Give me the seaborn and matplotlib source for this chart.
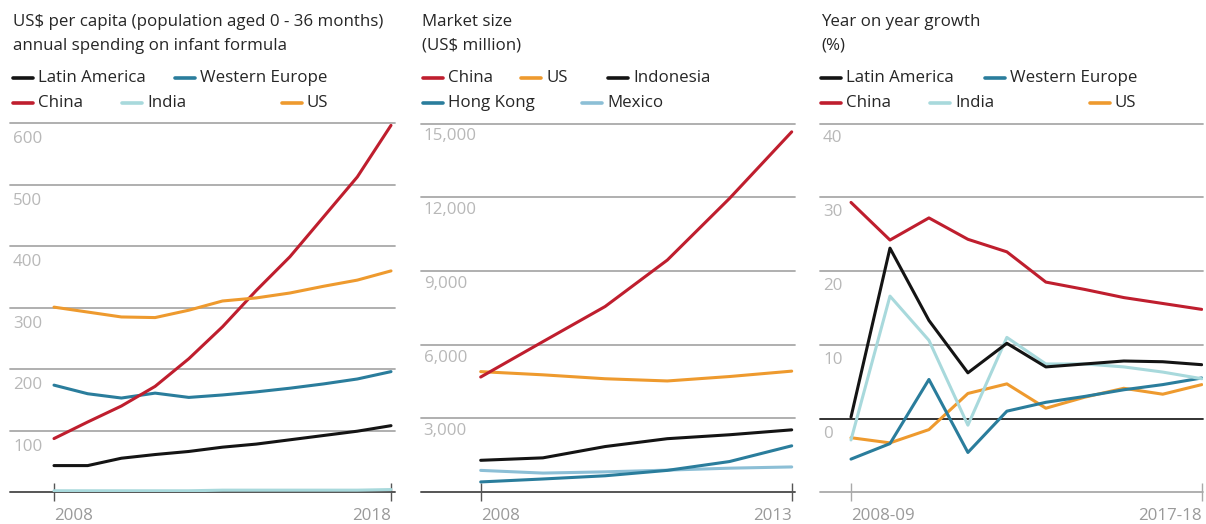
import matplotlib
matplotlib.use("Agg")
import matplotlib.pyplot as plt
import numpy as np
import pandas as pd
import seaborn as sns
from matplotlib.lines import Line2D
from matplotlib.transforms import offset_copy

sns.set_style("white")
plt.rcParams["font.family"] = ["Open Sans", "DejaVu Sans"]

# ---- data -----------------------------------------------------------------
years_spend = list(range(2008, 2019))
spend_latam = [43, 43, 55, 61, 66, 73, 78, 85, 92, 99, 108]
spend_weu = [174, 160, 153, 161, 154, 158, 163, 169, 176, 184, 196]
spend_china = [87, 114, 140, 172, 217, 269, 328, 383, 448, 513, 597]
spend_india = [2, 2, 2, 2, 2, 3, 3, 3, 3, 3, 4]
spend_us = [301, 293, 285, 284, 296, 311, 316, 324, 335, 345, 360]

years_market = list(range(2008, 2014))
market_china = [4680, 6120, 7550, 9440, 11950, 14660]
market_us = [4900, 4770, 4610, 4520, 4700, 4920]
market_indonesia = [1290, 1390, 1850, 2170, 2330, 2530]
market_hongkong = [410, 530, 660, 880, 1240, 1880]
market_mexico = [880, 770, 820, 890, 970, 1020]

periods = ["2008-09", "2009-10", "2010-11", "2011-12", "2012-13",
           "2013-14", "2014-15", "2015-16", "2016-17", "2017-18"]
growth_latam = [0.2, 23.1, 13.3, 6.2, 10.2, 7.0, 7.4, 7.8, 7.7, 7.3]
growth_weu = [-5.5, -3.4, 5.3, -4.6, 1.0, 2.2, 3.0, 3.9, 4.6, 5.5]
growth_china = [29.3, 24.2, 27.2, 24.3, 22.6, 18.5, 17.5, 16.4, 15.6, 14.8]
growth_india = [-2.9, 16.6, 10.6, -0.9, 11.0, 7.4, 7.4, 7.0, 6.3, 5.4]
growth_us = [-2.6, -3.3, -1.5, 3.4, 4.7, 1.4, 2.9, 4.1, 3.3, 4.6]

spend_ticks = [100, 200, 300, 400, 500, 600]
market_ticks = [3000, 6000, 9000, 12000, 15000]
growth_ticks = [0, 10, 20, 30, 40]

# ---- styling --------------------------------------------------------------
C_BLACK = "#141414"
C_TEAL = "#2a7d9c"
C_RED = "#bf1e2e"
C_PALE = "#a8d9dc"
C_ORANGE = "#ee9a2e"
C_MEXICO = "#8cbfd6"
GRID = "#a9a9a9"
LABEL = "#b8b8b8"
XLABEL = "#9a9a9a"
TEXT = "#262626"
FS = 12.2
LW = 2.2

W, H = 1206, 524
fig = plt.figure(figsize=(W / 100, H / 100), dpi=100)


def fx(x):
    return x / W


def fy(y):
    return 1 - y / H


def make_axes(x0, x1, ytop=123.5, ybot=492):
    return fig.add_axes([fx(x0), fy(ybot), (x1 - x0) / W, (ybot - ytop) / H])


def header(x, lines, legend_rows):
    for i, line in enumerate(lines):
        fig.text(fx(x), fy(22 + 24 * i), line, ha="left", va="center",
                 fontsize=FS, color=TEXT)
    for row_y, row in zip((78, 103), legend_rows):
        for hx, label, color in row:
            fig.add_artist(Line2D([fx(hx), fx(hx + 20)], [fy(row_y)] * 2,
                                  color=color, lw=2.6,
                                  transform=fig.transFigure))
            fig.text(fx(hx + 25), fy(row_y), label, ha="left", va="center",
                     fontsize=FS, color=TEXT)


def draw_panel(ax, x, series, xlim, ylim, yticks, ytick_fmt, label_drop,
               xt_labels, base_color, base_width, extra_zero=False):
    frames = []
    for name, values, color in series:
        frames.append(pd.DataFrame({"x": x, "y": values, "s": name}))
    df = pd.concat(frames, ignore_index=True)
    palette = {name: color for name, _, color in series}
    sns.lineplot(data=df, x="x", y="y", hue="s", palette=palette,
                 linewidth=LW, legend=False, ax=ax, zorder=3)
    ax.set_xlim(*xlim)
    ax.set_ylim(*ylim)
    ax.set_xlabel("")
    ax.set_ylabel("")
    for sp in ("left", "right", "top", "bottom"):
        ax.spines[sp].set_visible(False)
    ax.set_yticks([])
    for v in yticks:
        if extra_zero and v == 0:
            ax.axhline(0, color="#222222", lw=1.3, zorder=2, clip_on=False)
        else:
            ax.axhline(v, color=GRID, lw=1.3, zorder=1, clip_on=False)
    ax.axhline(ylim[0], color=base_color, lw=base_width, zorder=2,
               clip_on=False)
    tr = offset_copy(ax.get_yaxis_transform(), fig=fig, x=3, y=-label_drop,
                     units="dots")
    for v in yticks:
        ax.text(0, v, ytick_fmt(v), transform=tr, ha="left", va="center",
                fontsize=FS, color=LABEL)
    ax.set_xticks([x[0], x[-1]])
    ax.set_xticklabels(xt_labels)
    ax.tick_params(axis="x", direction="inout", length=13, width=1.0,
                   color=base_color, pad=5, labelsize=FS,
                   labelcolor=XLABEL, bottom=True)
    lbls = ax.get_xticklabels()
    lbls[0].set_ha("left")
    lbls[-1].set_ha("right")
    ax.patch.set_alpha(0)


# ---- panel 1: per-capita spending ----------------------------------------
ax1 = make_axes(10, 395)
draw_panel(ax1, years_spend,
           [("Latin America", spend_latam, C_BLACK),
            ("Western Europe", spend_weu, C_TEAL),
            ("China", spend_china, C_RED),
            ("India", spend_india, C_PALE),
            ("US", spend_us, C_ORANGE)],
           (2008 - 44 / 33.7, 2018 + 4 / 33.7), (0, 600), spend_ticks,
           lambda v: f"{v}", 16, ["2008", "2018"], "#555555", 1.4)
header(13, ["US$ per capita (population aged 0 - 36 months)",
            "annual spending on infant formula"],
       [[(13, "Latin America", C_BLACK), (175, "Western Europe", C_TEAL)],
        [(13, "China", C_RED), (122, "India", C_PALE), (282, "US", C_ORANGE)]])

# ---- panel 2: market size -------------------------------------------------
ax2 = make_axes(420.7, 795)
draw_panel(ax2, years_market,
           [("Mexico", market_mexico, C_MEXICO),
            ("Hong Kong", market_hongkong, C_TEAL),
            ("Indonesia", market_indonesia, C_BLACK),
            ("US", market_us, C_ORANGE),
            ("China", market_china, C_RED)],
           (2008 - 60 / 62.2, 2013 + 3.3 / 62.2), (0, 15000), market_ticks,
           lambda v: f"{v:,}", 13, ["2008", "2013"], "#555555", 1.4)
header(422, ["Market size", "(US$ million)"],
       [[(423, "China", C_RED), (521, "US", C_ORANGE),
         (608, "Indonesia", C_BLACK)],
        [(423, "Hong Kong", C_TEAL), (582, "Mexico", C_MEXICO)]])

# ---- panel 3: year-on-year growth -----------------------------------------
idx = list(range(len(periods)))
ax3 = make_axes(820, 1203, ybot=492.3)
draw_panel(ax3, idx,
           [("US", growth_us, C_ORANGE),
            ("Western Europe", growth_weu, C_TEAL),
            ("India", growth_india, C_PALE),
            ("Latin America", growth_latam, C_BLACK),
            ("China", growth_china, C_RED)],
           (-31 / 38.96, 9 + 1.3 / 38.96), (-10, 40), growth_ticks,
           lambda v: f"{v}", 15, [periods[0], periods[-1]], GRID, 1.3,
           extra_zero=True)
header(821, ["Year on year growth", "(%)"],
       [[(821, "Latin America", C_BLACK), (985, "Western Europe", C_TEAL)],
        [(821, "China", C_RED), (930, "India", C_PALE), (1090, "US", C_ORANGE)]])

fig.savefig("out.png", dpi=100)
